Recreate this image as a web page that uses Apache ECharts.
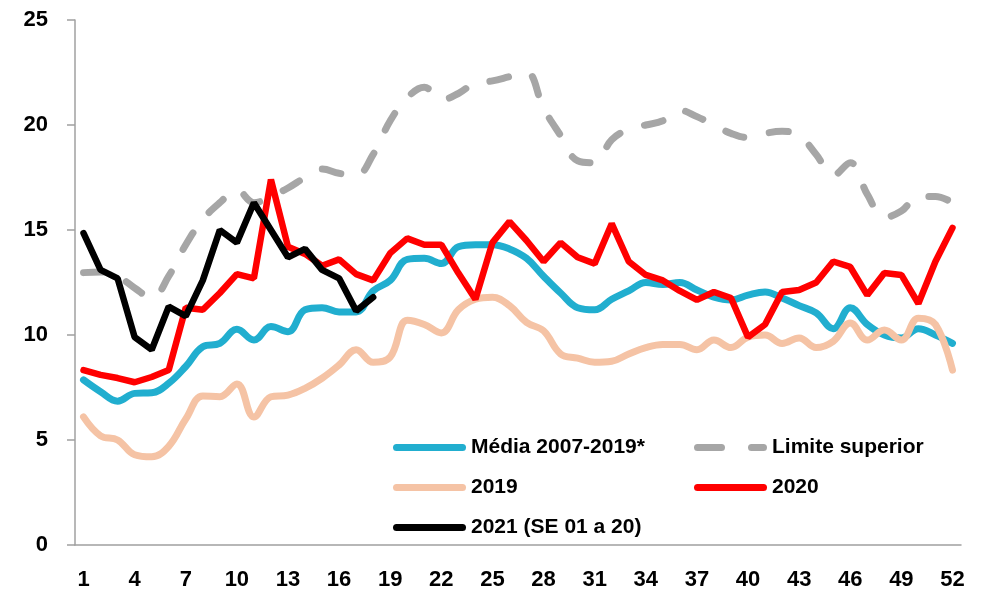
<!DOCTYPE html>
<html lang="pt-BR">
<head>
	<meta charset="UTF-8">
	<title>SE 2007-2021</title>
	<script src="https://cdn.jsdelivr.net/npm/echarts@6/dist/echarts.min.js"></script>
	<style>
		html, body { margin: 0; padding: 0; background: #fff; }
		#chart { width: 981px; height: 605px; }
	</style>
</head>
<body>
<div id="chart"></div>
<script>
	// semanas epidemiologicas 1..52
	var semanas = [];
	for (var i = 1; i <= 52; i++) semanas.push(String(i));

	var media = [7.86, 7.3, 6.85, 7.22, 7.25, 7.7, 8.5, 9.44, 9.6, 10.27, 9.76, 10.4, 10.16, 11.2, 11.3, 11.1, 11.1, 12.1,
		12.6, 13.6, 13.65, 13.4, 14.2, 14.3, 14.3, 14.1, 13.65, 12.8, 12.0, 11.3, 11.2, 11.7, 12.1, 12.5, 12.4, 12.5,
		12.14, 11.8, 11.67, 11.9, 12.05, 11.76, 11.4, 11.05, 10.3, 11.3, 10.5, 10.0, 9.86, 10.3, 10.0, 9.6];
	var limite = [12.97, 13.0, 12.8, 12.24, 11.76, 12.8, 14.3, 15.5, 16.3, 16.9, 16.3, 16.6, 17.0, 17.5, 17.9, 17.7, 17.6, 18.6,
		20.2, 21.3, 21.8, 21.2, 21.5, 22.0, 22.1, 22.3, 22.5, 20.8, 19.5, 18.3, 18.2, 19.3, 19.8, 20.0, 20.2, 20.7,
		20.4, 20.0, 19.6, 19.4, 19.6, 19.7, 19.5, 18.6, 17.6, 18.2, 16.7, 15.6, 15.9, 16.6, 16.6, 16.3];
	var ano2019 = [6.1, 5.2, 5.0, 4.3, 4.2, 4.7, 6.0, 7.1, 7.06, 7.67, 6.1, 7.06, 7.14, 7.46, 7.94, 8.57, 9.3, 8.7,
		8.95, 10.7, 10.5, 10.1, 11.2, 11.7, 11.8, 11.4, 10.6, 10.2, 9.1, 8.9, 8.7, 8.75, 9.1, 9.4, 9.55, 9.55,
		9.3, 9.76, 9.4, 9.9, 10.0, 9.6, 9.86, 9.4, 9.7, 10.57, 9.76, 10.24, 9.76, 10.8, 10.5, 8.33];
	var ano2020 = [8.33, 8.1, 7.95, 7.75, 8.0, 8.33, 11.3, 11.2, 12.0, 12.9, 12.7, 17.4, 14.2, 13.86, 13.3, 13.6, 12.9, 12.6,
		13.9, 14.6, 14.3, 14.3, 12.95, 11.7, 14.4, 15.4, 14.5, 13.5, 14.4, 13.7, 13.4, 15.3, 13.5, 12.86, 12.6, 12.1,
		11.67, 12.05, 11.76, 9.9, 10.5, 12.05, 12.14, 12.5, 13.5, 13.24, 11.9, 12.95, 12.86, 11.5, 13.5, 15.1];
	var ano2021 = [14.85, 13.1, 12.7, 9.9, 9.3, 11.35, 10.9, 12.6, 15.0, 14.4, 16.3, 15.0, 13.7, 14.1, 13.1, 12.7, 11.15, 11.8];

	var fonte = 'Liberation Sans';
	var cinzaEixo = '#a0a0a0';

	// icones da legenda: traco cheio arredondado e traco duplo (tracejado)
	var iconeCheio = 'path://M7,0 L139,0 A7,7 0 0 1 139,14 L7,14 A7,7 0 0 1 7,0 Z';
	var iconeTracejado = 'path://M7,0 L55,0 A7,7 0 0 1 55,14 L7,14 A7,7 0 0 1 7,0 Z M115,0 L139,0 A7,7 0 0 1 139,14 L115,14 A7,7 0 0 1 115,0 Z';

	var estiloLegenda = {
		orient: 'vertical', top: 437, padding: 0,
		itemWidth: 73, itemHeight: 7, itemGap: 19,
		symbolKeepAspect: false,
		textStyle: { fontFamily: fonte, fontWeight: 'bold', fontSize: 21, lineHeight: 20, color: '#000' }
	};

	var chart = echarts.init(document.getElementById('chart'));
	chart.setOption({
		animation: false,
		backgroundColor: '#fff',
		grid: { left: 75, right: 20, top: 20, bottom: 60 },
		legend: [
			Object.assign({}, estiloLegenda, {
				left: 393,
				data: [
					{ name: 'Média 2007-2019*', icon: iconeCheio },
					{ name: '2019', icon: iconeCheio },
					{ name: '2021 (SE 01 a 20)', icon: iconeCheio }
				]
			}),
			Object.assign({}, estiloLegenda, {
				left: 694,
				data: [
					{ name: 'Limite superior', icon: iconeTracejado },
					{ name: '2020', icon: iconeCheio }
				]
			})
		],
		xAxis: {
			type: 'category',
			data: semanas,
			boundaryGap: true,
			axisLine: { lineStyle: { color: cinzaEixo, width: 1.5 } },
			axisTick: { interval: 2, length: 8, lineStyle: { color: cinzaEixo, width: 1.5 } },
			axisLabel: { interval: 2, margin: 24, fontFamily: fonte, fontWeight: 'bold', fontSize: 22, color: '#000' },
			splitLine: { show: false }
		},
		yAxis: {
			type: 'value',
			min: 0, max: 25, interval: 5,
			axisLine: { show: true, lineStyle: { color: cinzaEixo, width: 1.5 } },
			axisTick: { show: true, length: 8, lineStyle: { color: cinzaEixo, width: 1.5 } },
			axisLabel: { margin: 27, fontFamily: fonte, fontWeight: 'bold', fontSize: 22, color: '#000' },
			splitLine: { show: false }
		},
		series: [{
			name: 'Média 2007-2019*', type: 'line', data: media,
			smooth: 0.4, symbol: 'none', color: '#21aecf',
			lineStyle: { width: 7, color: '#21aecf', cap: 'round' }
		}, {
			name: 'Limite superior', type: 'line', data: limite,
			smooth: 0.4, symbol: 'none', color: '#a6a6a6',
			lineStyle: { width: 7, color: '#a6a6a6', type: [19, 26], cap: 'round' }
		}, {
			name: '2019', type: 'line', data: ano2019,
			smooth: 0.4, symbol: 'none', color: '#f5c3a5',
			lineStyle: { width: 7, color: '#f5c3a5', cap: 'round' }
		}, {
			name: '2020', type: 'line', data: ano2020,
			symbol: 'none', color: '#ff0000',
			lineStyle: { width: 6.5, color: '#ff0000', cap: 'round' }
		}, {
			name: '2021 (SE 01 a 20)', type: 'line', data: ano2021,
			symbol: 'none', color: '#000000',
			lineStyle: { width: 6.5, color: '#000000', cap: 'round' }
		}]
	});
</script>
</body>
</html>
